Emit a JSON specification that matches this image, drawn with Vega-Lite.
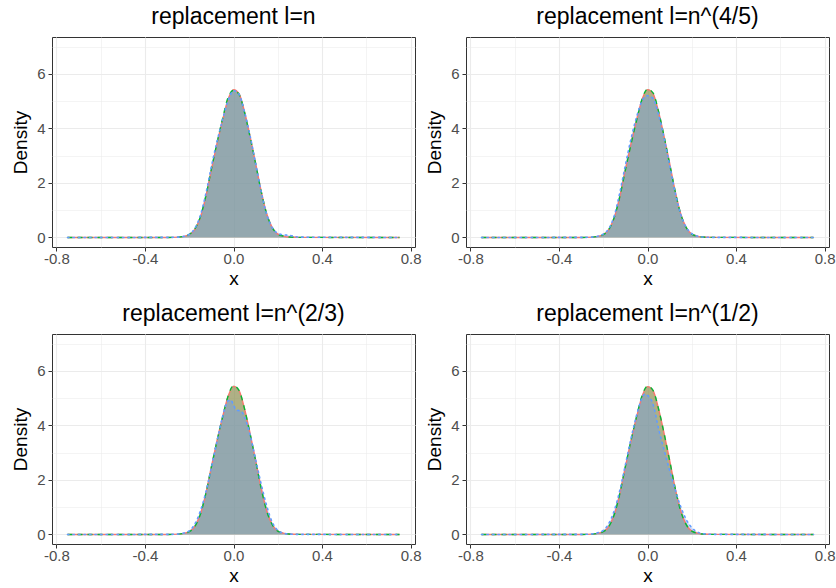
{
"$schema": "https://vega.github.io/schema/vega-lite/v6.json",
"padding": {"left": 11, "top": 5, "right": 0, "bottom": 0},
"background": "white",
"data": {"values": [
{"p":1,"s":"A","x":-0.75,"y":0},{"p":1,"s":"A","x":-0.3,"y":0.001},{"p":1,"s":"A","x":-0.25,"y":0.011},{"p":1,"s":"A","x":-0.225,"y":0.04},{"p":1,"s":"A","x":-0.2,"y":0.1},{"p":1,"s":"A","x":-0.175,"y":0.29},{"p":1,"s":"A","x":-0.15,"y":0.73},{"p":1,"s":"A","x":-0.125,"y":1.5},{"p":1,"s":"A","x":-0.1,"y":2.48},{"p":1,"s":"A","x":-0.075,"y":3.42},{"p":1,"s":"A","x":-0.05,"y":4.28},{"p":1,"s":"A","x":-0.025,"y":5.05},{"p":1,"s":"A","x":0,"y":5.42},{"p":1,"s":"A","x":0.025,"y":5.27},{"p":1,"s":"A","x":0.05,"y":4.6},{"p":1,"s":"A","x":0.075,"y":3.7},{"p":1,"s":"A","x":0.1,"y":2.72},{"p":1,"s":"A","x":0.125,"y":1.7},{"p":1,"s":"A","x":0.15,"y":0.87},{"p":1,"s":"A","x":0.175,"y":0.36},{"p":1,"s":"A","x":0.2,"y":0.12},{"p":1,"s":"A","x":0.225,"y":0.05},{"p":1,"s":"A","x":0.25,"y":0.014},{"p":1,"s":"A","x":0.3,"y":0.002},{"p":1,"s":"A","x":0.75,"y":0},
{"p":1,"s":"B","x":-0.75,"y":0},{"p":1,"s":"B","x":-0.3,"y":0.001},{"p":1,"s":"B","x":-0.25,"y":0.012},{"p":1,"s":"B","x":-0.225,"y":0.042},{"p":1,"s":"B","x":-0.2,"y":0.11},{"p":1,"s":"B","x":-0.175,"y":0.31},{"p":1,"s":"B","x":-0.15,"y":0.75},{"p":1,"s":"B","x":-0.125,"y":1.52},{"p":1,"s":"B","x":-0.1,"y":2.5},{"p":1,"s":"B","x":-0.075,"y":3.45},{"p":1,"s":"B","x":-0.05,"y":4.33},{"p":1,"s":"B","x":-0.025,"y":5.12},{"p":1,"s":"B","x":0,"y":5.4},{"p":1,"s":"B","x":0.025,"y":5.25},{"p":1,"s":"B","x":0.05,"y":4.58},{"p":1,"s":"B","x":0.075,"y":3.68},{"p":1,"s":"B","x":0.1,"y":2.7},{"p":1,"s":"B","x":0.125,"y":1.69},{"p":1,"s":"B","x":0.15,"y":0.86},{"p":1,"s":"B","x":0.175,"y":0.36},{"p":1,"s":"B","x":0.2,"y":0.12},{"p":1,"s":"B","x":0.225,"y":0.05},{"p":1,"s":"B","x":0.25,"y":0.014},{"p":1,"s":"B","x":0.3,"y":0.002},{"p":1,"s":"B","x":0.75,"y":0},
{"p":1,"s":"C","x":-0.75,"y":0},{"p":1,"s":"C","x":-0.3,"y":0.002},{"p":1,"s":"C","x":-0.25,"y":0.012},{"p":1,"s":"C","x":-0.225,"y":0.04},{"p":1,"s":"C","x":-0.2,"y":0.11},{"p":1,"s":"C","x":-0.175,"y":0.33},{"p":1,"s":"C","x":-0.15,"y":0.8},{"p":1,"s":"C","x":-0.125,"y":1.6},{"p":1,"s":"C","x":-0.1,"y":2.6},{"p":1,"s":"C","x":-0.075,"y":3.5},{"p":1,"s":"C","x":-0.05,"y":4.3},{"p":1,"s":"C","x":-0.025,"y":5.0},{"p":1,"s":"C","x":0,"y":5.38},{"p":1,"s":"C","x":0.025,"y":5.25},{"p":1,"s":"C","x":0.05,"y":4.6},{"p":1,"s":"C","x":0.075,"y":3.72},{"p":1,"s":"C","x":0.1,"y":2.72},{"p":1,"s":"C","x":0.125,"y":1.68},{"p":1,"s":"C","x":0.15,"y":0.85},{"p":1,"s":"C","x":0.175,"y":0.36},{"p":1,"s":"C","x":0.2,"y":0.15},{"p":1,"s":"C","x":0.225,"y":0.1},{"p":1,"s":"C","x":0.25,"y":0.08},{"p":1,"s":"C","x":0.3,"y":0.012},{"p":1,"s":"C","x":0.75,"y":0},
{"p":2,"s":"A","x":-0.75,"y":0},{"p":2,"s":"A","x":-0.3,"y":0.001},{"p":2,"s":"A","x":-0.25,"y":0.011},{"p":2,"s":"A","x":-0.225,"y":0.04},{"p":2,"s":"A","x":-0.2,"y":0.1},{"p":2,"s":"A","x":-0.175,"y":0.29},{"p":2,"s":"A","x":-0.15,"y":0.73},{"p":2,"s":"A","x":-0.125,"y":1.5},{"p":2,"s":"A","x":-0.1,"y":2.48},{"p":2,"s":"A","x":-0.075,"y":3.42},{"p":2,"s":"A","x":-0.05,"y":4.28},{"p":2,"s":"A","x":-0.025,"y":5.05},{"p":2,"s":"A","x":0,"y":5.42},{"p":2,"s":"A","x":0.025,"y":5.27},{"p":2,"s":"A","x":0.05,"y":4.6},{"p":2,"s":"A","x":0.075,"y":3.7},{"p":2,"s":"A","x":0.1,"y":2.72},{"p":2,"s":"A","x":0.125,"y":1.7},{"p":2,"s":"A","x":0.15,"y":0.87},{"p":2,"s":"A","x":0.175,"y":0.36},{"p":2,"s":"A","x":0.2,"y":0.12},{"p":2,"s":"A","x":0.225,"y":0.05},{"p":2,"s":"A","x":0.25,"y":0.014},{"p":2,"s":"A","x":0.3,"y":0.002},{"p":2,"s":"A","x":0.75,"y":0},
{"p":2,"s":"B","x":-0.75,"y":0},{"p":2,"s":"B","x":-0.3,"y":0.001},{"p":2,"s":"B","x":-0.25,"y":0.011},{"p":2,"s":"B","x":-0.225,"y":0.04},{"p":2,"s":"B","x":-0.2,"y":0.1},{"p":2,"s":"B","x":-0.175,"y":0.29},{"p":2,"s":"B","x":-0.15,"y":0.74},{"p":2,"s":"B","x":-0.125,"y":1.5},{"p":2,"s":"B","x":-0.1,"y":2.47},{"p":2,"s":"B","x":-0.075,"y":3.4},{"p":2,"s":"B","x":-0.05,"y":4.27},{"p":2,"s":"B","x":-0.025,"y":5.06},{"p":2,"s":"B","x":0,"y":5.44},{"p":2,"s":"B","x":0.025,"y":5.3},{"p":2,"s":"B","x":0.05,"y":4.62},{"p":2,"s":"B","x":0.075,"y":3.7},{"p":2,"s":"B","x":0.1,"y":2.7},{"p":2,"s":"B","x":0.125,"y":1.69},{"p":2,"s":"B","x":0.15,"y":0.86},{"p":2,"s":"B","x":0.175,"y":0.36},{"p":2,"s":"B","x":0.2,"y":0.12},{"p":2,"s":"B","x":0.225,"y":0.05},{"p":2,"s":"B","x":0.25,"y":0.014},{"p":2,"s":"B","x":0.3,"y":0.002},{"p":2,"s":"B","x":0.75,"y":0},
{"p":2,"s":"C","x":-0.75,"y":0},{"p":2,"s":"C","x":-0.3,"y":0.002},{"p":2,"s":"C","x":-0.25,"y":0.013},{"p":2,"s":"C","x":-0.225,"y":0.045},{"p":2,"s":"C","x":-0.2,"y":0.12},{"p":2,"s":"C","x":-0.175,"y":0.32},{"p":2,"s":"C","x":-0.15,"y":0.8},{"p":2,"s":"C","x":-0.125,"y":1.65},{"p":2,"s":"C","x":-0.1,"y":2.65},{"p":2,"s":"C","x":-0.075,"y":3.6},{"p":2,"s":"C","x":-0.05,"y":4.4},{"p":2,"s":"C","x":-0.025,"y":5.0},{"p":2,"s":"C","x":0,"y":5.2},{"p":2,"s":"C","x":0.025,"y":5.1},{"p":2,"s":"C","x":0.05,"y":4.5},{"p":2,"s":"C","x":0.075,"y":3.65},{"p":2,"s":"C","x":0.1,"y":2.65},{"p":2,"s":"C","x":0.125,"y":1.65},{"p":2,"s":"C","x":0.15,"y":0.85},{"p":2,"s":"C","x":0.175,"y":0.37},{"p":2,"s":"C","x":0.2,"y":0.14},{"p":2,"s":"C","x":0.225,"y":0.05},{"p":2,"s":"C","x":0.25,"y":0.015},{"p":2,"s":"C","x":0.3,"y":0.002},{"p":2,"s":"C","x":0.75,"y":0},
{"p":3,"s":"A","x":-0.75,"y":0},{"p":3,"s":"A","x":-0.3,"y":0.001},{"p":3,"s":"A","x":-0.25,"y":0.011},{"p":3,"s":"A","x":-0.225,"y":0.04},{"p":3,"s":"A","x":-0.2,"y":0.1},{"p":3,"s":"A","x":-0.175,"y":0.29},{"p":3,"s":"A","x":-0.15,"y":0.73},{"p":3,"s":"A","x":-0.125,"y":1.5},{"p":3,"s":"A","x":-0.1,"y":2.48},{"p":3,"s":"A","x":-0.075,"y":3.42},{"p":3,"s":"A","x":-0.05,"y":4.28},{"p":3,"s":"A","x":-0.025,"y":5.05},{"p":3,"s":"A","x":0,"y":5.43},{"p":3,"s":"A","x":0.025,"y":5.27},{"p":3,"s":"A","x":0.05,"y":4.6},{"p":3,"s":"A","x":0.075,"y":3.7},{"p":3,"s":"A","x":0.1,"y":2.72},{"p":3,"s":"A","x":0.125,"y":1.7},{"p":3,"s":"A","x":0.15,"y":0.87},{"p":3,"s":"A","x":0.175,"y":0.36},{"p":3,"s":"A","x":0.2,"y":0.12},{"p":3,"s":"A","x":0.225,"y":0.05},{"p":3,"s":"A","x":0.25,"y":0.014},{"p":3,"s":"A","x":0.3,"y":0.002},{"p":3,"s":"A","x":0.75,"y":0},
{"p":3,"s":"B","x":-0.75,"y":0},{"p":3,"s":"B","x":-0.3,"y":0.001},{"p":3,"s":"B","x":-0.25,"y":0.011},{"p":3,"s":"B","x":-0.225,"y":0.04},{"p":3,"s":"B","x":-0.2,"y":0.1},{"p":3,"s":"B","x":-0.175,"y":0.29},{"p":3,"s":"B","x":-0.15,"y":0.73},{"p":3,"s":"B","x":-0.125,"y":1.5},{"p":3,"s":"B","x":-0.1,"y":2.47},{"p":3,"s":"B","x":-0.075,"y":3.41},{"p":3,"s":"B","x":-0.05,"y":4.28},{"p":3,"s":"B","x":-0.025,"y":5.06},{"p":3,"s":"B","x":0,"y":5.46},{"p":3,"s":"B","x":0.025,"y":5.28},{"p":3,"s":"B","x":0.05,"y":4.6},{"p":3,"s":"B","x":0.075,"y":3.69},{"p":3,"s":"B","x":0.1,"y":2.7},{"p":3,"s":"B","x":0.125,"y":1.69},{"p":3,"s":"B","x":0.15,"y":0.86},{"p":3,"s":"B","x":0.175,"y":0.36},{"p":3,"s":"B","x":0.2,"y":0.12},{"p":3,"s":"B","x":0.225,"y":0.05},{"p":3,"s":"B","x":0.25,"y":0.014},{"p":3,"s":"B","x":0.3,"y":0.002},{"p":3,"s":"B","x":0.75,"y":0},
{"p":3,"s":"C","x":-0.75,"y":0},{"p":3,"s":"C","x":-0.3,"y":0.002},{"p":3,"s":"C","x":-0.25,"y":0.015},{"p":3,"s":"C","x":-0.225,"y":0.05},{"p":3,"s":"C","x":-0.2,"y":0.13},{"p":3,"s":"C","x":-0.175,"y":0.38},{"p":3,"s":"C","x":-0.15,"y":0.85},{"p":3,"s":"C","x":-0.125,"y":1.55},{"p":3,"s":"C","x":-0.1,"y":2.45},{"p":3,"s":"C","x":-0.075,"y":3.4},{"p":3,"s":"C","x":-0.05,"y":4.3},{"p":3,"s":"C","x":-0.025,"y":4.9},{"p":3,"s":"C","x":-0.0125,"y":4.93},{"p":3,"s":"C","x":0,"y":4.75},{"p":3,"s":"C","x":0.0125,"y":4.56},{"p":3,"s":"C","x":0.025,"y":4.54},{"p":3,"s":"C","x":0.0375,"y":4.5},{"p":3,"s":"C","x":0.05,"y":4.3},{"p":3,"s":"C","x":0.075,"y":3.65},{"p":3,"s":"C","x":0.1,"y":2.75},{"p":3,"s":"C","x":0.125,"y":1.85},{"p":3,"s":"C","x":0.15,"y":1.05},{"p":3,"s":"C","x":0.175,"y":0.45},{"p":3,"s":"C","x":0.2,"y":0.15},{"p":3,"s":"C","x":0.225,"y":0.05},{"p":3,"s":"C","x":0.25,"y":0.015},{"p":3,"s":"C","x":0.3,"y":0.002},{"p":3,"s":"C","x":0.75,"y":0},
{"p":4,"s":"A","x":-0.75,"y":0},{"p":4,"s":"A","x":-0.3,"y":0.001},{"p":4,"s":"A","x":-0.25,"y":0.011},{"p":4,"s":"A","x":-0.225,"y":0.04},{"p":4,"s":"A","x":-0.2,"y":0.1},{"p":4,"s":"A","x":-0.175,"y":0.29},{"p":4,"s":"A","x":-0.15,"y":0.73},{"p":4,"s":"A","x":-0.125,"y":1.5},{"p":4,"s":"A","x":-0.1,"y":2.48},{"p":4,"s":"A","x":-0.075,"y":3.42},{"p":4,"s":"A","x":-0.05,"y":4.28},{"p":4,"s":"A","x":-0.025,"y":5.05},{"p":4,"s":"A","x":0,"y":5.42},{"p":4,"s":"A","x":0.025,"y":5.27},{"p":4,"s":"A","x":0.05,"y":4.6},{"p":4,"s":"A","x":0.075,"y":3.7},{"p":4,"s":"A","x":0.1,"y":2.72},{"p":4,"s":"A","x":0.125,"y":1.7},{"p":4,"s":"A","x":0.15,"y":0.87},{"p":4,"s":"A","x":0.175,"y":0.36},{"p":4,"s":"A","x":0.2,"y":0.12},{"p":4,"s":"A","x":0.225,"y":0.05},{"p":4,"s":"A","x":0.25,"y":0.014},{"p":4,"s":"A","x":0.3,"y":0.002},{"p":4,"s":"A","x":0.75,"y":0},
{"p":4,"s":"B","x":-0.75,"y":0},{"p":4,"s":"B","x":-0.3,"y":0.001},{"p":4,"s":"B","x":-0.25,"y":0.011},{"p":4,"s":"B","x":-0.225,"y":0.04},{"p":4,"s":"B","x":-0.2,"y":0.1},{"p":4,"s":"B","x":-0.175,"y":0.29},{"p":4,"s":"B","x":-0.15,"y":0.73},{"p":4,"s":"B","x":-0.125,"y":1.5},{"p":4,"s":"B","x":-0.1,"y":2.49},{"p":4,"s":"B","x":-0.075,"y":3.43},{"p":4,"s":"B","x":-0.05,"y":4.3},{"p":4,"s":"B","x":-0.025,"y":5.08},{"p":4,"s":"B","x":0,"y":5.44},{"p":4,"s":"B","x":0.025,"y":5.28},{"p":4,"s":"B","x":0.05,"y":4.6},{"p":4,"s":"B","x":0.075,"y":3.7},{"p":4,"s":"B","x":0.1,"y":2.71},{"p":4,"s":"B","x":0.125,"y":1.7},{"p":4,"s":"B","x":0.15,"y":0.86},{"p":4,"s":"B","x":0.175,"y":0.36},{"p":4,"s":"B","x":0.2,"y":0.12},{"p":4,"s":"B","x":0.225,"y":0.05},{"p":4,"s":"B","x":0.25,"y":0.014},{"p":4,"s":"B","x":0.3,"y":0.002},{"p":4,"s":"B","x":0.75,"y":0},
{"p":4,"s":"C","x":-0.75,"y":0},{"p":4,"s":"C","x":-0.3,"y":0.003},{"p":4,"s":"C","x":-0.25,"y":0.02},{"p":4,"s":"C","x":-0.225,"y":0.06},{"p":4,"s":"C","x":-0.2,"y":0.15},{"p":4,"s":"C","x":-0.175,"y":0.4},{"p":4,"s":"C","x":-0.15,"y":0.88},{"p":4,"s":"C","x":-0.125,"y":1.62},{"p":4,"s":"C","x":-0.1,"y":2.55},{"p":4,"s":"C","x":-0.075,"y":3.5},{"p":4,"s":"C","x":-0.05,"y":4.35},{"p":4,"s":"C","x":-0.025,"y":5.0},{"p":4,"s":"C","x":-0.0125,"y":5.15},{"p":4,"s":"C","x":0,"y":5.1},{"p":4,"s":"C","x":0.025,"y":4.78},{"p":4,"s":"C","x":0.05,"y":3.88},{"p":4,"s":"C","x":0.075,"y":3.1},{"p":4,"s":"C","x":0.1,"y":2.35},{"p":4,"s":"C","x":0.125,"y":1.65},{"p":4,"s":"C","x":0.15,"y":1.02},{"p":4,"s":"C","x":0.175,"y":0.55},{"p":4,"s":"C","x":0.2,"y":0.25},{"p":4,"s":"C","x":0.225,"y":0.09},{"p":4,"s":"C","x":0.25,"y":0.03},{"p":4,"s":"C","x":0.3,"y":0.004},{"p":4,"s":"C","x":0.75,"y":0}
]},
"columns": 2,
"spacing": {"row": 13, "column": 3},
"concat": [
{"title":"replacement l=n","width":363,"height":210,
 "transform":[{"filter":"datum.p==1"}],
 "encoding":{
  "x":{"field":"x","type":"quantitative","scale":{"domain":[-0.82,0.82],"nice":false,"zero":false},"axis":{"title":"x","values":[-0.8,-0.6,-0.4,-0.2,0,0.2,0.4,0.6,0.8],"labelExpr":"abs(datum.value*2.5-round(datum.value*2.5))<0.01 ? (datum.value<-0.001?'-':'')+format(abs(datum.value),'.1f') : ''","tickOpacity":{"condition":{"test":"abs(datum.value*2.5-round(datum.value*2.5))<0.01","value":1},"value":0},"gridWidth":{"condition":{"test":"abs(datum.value*2.5-round(datum.value*2.5))<0.01","value":1.1},"value":0.55}}},
  "y":{"field":"y","type":"quantitative","scale":{"domain":[-0.35,7.35],"nice":false,"zero":false},"axis":{"title":"Density","values":[0,1,2,3,4,5,6,7],"labelExpr":"datum.value%2==0 ? ''+datum.value : ''","tickOpacity":{"condition":{"test":"datum.value%2==0","value":1},"value":0},"gridWidth":{"condition":{"test":"datum.value%2==0","value":1.1},"value":0.55}}},
  "color":{"field":"s","type":"nominal","scale":{"domain":["A","B","C"],"range":["#F8766D","#00BA38","#619CFF"]},"legend":null}
 },
 "layer":[
  {"transform":[{"filter":"datum.s=='A'"}],"mark":{"type":"area","interpolate":"monotone","fillOpacity":0.6},"encoding":{"y2":{"datum":0}}},
  {"transform":[{"filter":"datum.s=='B'"}],"mark":{"type":"area","interpolate":"monotone","fillOpacity":0.3},"encoding":{"y2":{"datum":0}}},
  {"transform":[{"filter":"datum.s=='C'"}],"mark":{"type":"area","interpolate":"monotone","fillOpacity":0.35},"encoding":{"y2":{"datum":0}}},
  {"transform":[{"filter":"datum.s=='A'"}],"mark":{"type":"line","interpolate":"monotone","strokeWidth":1.4},"encoding":{}},
  {"transform":[{"filter":"datum.s=='B'"}],"mark":{"type":"line","interpolate":"monotone","strokeWidth":1.4,"strokeDash":[5,5]},"encoding":{}},
  {"transform":[{"filter":"datum.s=='C'"}],"mark":{"type":"line","interpolate":"monotone","strokeWidth":1.6,"strokeDash":[1.5,4],"strokeCap":"round"},"encoding":{}}
 ]},
{"title":"replacement l=n^(4/5)","width":363,"height":210,
 "transform":[{"filter":"datum.p==2"}],
 "encoding":{
  "x":{"field":"x","type":"quantitative","scale":{"domain":[-0.82,0.82],"nice":false,"zero":false},"axis":{"title":"x","values":[-0.8,-0.6,-0.4,-0.2,0,0.2,0.4,0.6,0.8],"labelExpr":"abs(datum.value*2.5-round(datum.value*2.5))<0.01 ? (datum.value<-0.001?'-':'')+format(abs(datum.value),'.1f') : ''","tickOpacity":{"condition":{"test":"abs(datum.value*2.5-round(datum.value*2.5))<0.01","value":1},"value":0},"gridWidth":{"condition":{"test":"abs(datum.value*2.5-round(datum.value*2.5))<0.01","value":1.1},"value":0.55}}},
  "y":{"field":"y","type":"quantitative","scale":{"domain":[-0.35,7.35],"nice":false,"zero":false},"axis":{"title":"Density","values":[0,1,2,3,4,5,6,7],"labelExpr":"datum.value%2==0 ? ''+datum.value : ''","tickOpacity":{"condition":{"test":"datum.value%2==0","value":1},"value":0},"gridWidth":{"condition":{"test":"datum.value%2==0","value":1.1},"value":0.55}}},
  "color":{"field":"s","type":"nominal","scale":{"domain":["A","B","C"],"range":["#F8766D","#00BA38","#619CFF"]},"legend":null}
 },
 "layer":[
  {"transform":[{"filter":"datum.s=='A'"}],"mark":{"type":"area","interpolate":"monotone","fillOpacity":0.6},"encoding":{"y2":{"datum":0}}},
  {"transform":[{"filter":"datum.s=='B'"}],"mark":{"type":"area","interpolate":"monotone","fillOpacity":0.3},"encoding":{"y2":{"datum":0}}},
  {"transform":[{"filter":"datum.s=='C'"}],"mark":{"type":"area","interpolate":"monotone","fillOpacity":0.35},"encoding":{"y2":{"datum":0}}},
  {"transform":[{"filter":"datum.s=='A'"}],"mark":{"type":"line","interpolate":"monotone","strokeWidth":1.4},"encoding":{}},
  {"transform":[{"filter":"datum.s=='B'"}],"mark":{"type":"line","interpolate":"monotone","strokeWidth":1.4,"strokeDash":[5,5]},"encoding":{}},
  {"transform":[{"filter":"datum.s=='C'"}],"mark":{"type":"line","interpolate":"monotone","strokeWidth":1.6,"strokeDash":[1.5,4],"strokeCap":"round"},"encoding":{}}
 ]},
{"title":"replacement l=n^(2/3)","width":363,"height":210,
 "transform":[{"filter":"datum.p==3"}],
 "encoding":{
  "x":{"field":"x","type":"quantitative","scale":{"domain":[-0.82,0.82],"nice":false,"zero":false},"axis":{"title":"x","values":[-0.8,-0.6,-0.4,-0.2,0,0.2,0.4,0.6,0.8],"labelExpr":"abs(datum.value*2.5-round(datum.value*2.5))<0.01 ? (datum.value<-0.001?'-':'')+format(abs(datum.value),'.1f') : ''","tickOpacity":{"condition":{"test":"abs(datum.value*2.5-round(datum.value*2.5))<0.01","value":1},"value":0},"gridWidth":{"condition":{"test":"abs(datum.value*2.5-round(datum.value*2.5))<0.01","value":1.1},"value":0.55}}},
  "y":{"field":"y","type":"quantitative","scale":{"domain":[-0.35,7.35],"nice":false,"zero":false},"axis":{"title":"Density","values":[0,1,2,3,4,5,6,7],"labelExpr":"datum.value%2==0 ? ''+datum.value : ''","tickOpacity":{"condition":{"test":"datum.value%2==0","value":1},"value":0},"gridWidth":{"condition":{"test":"datum.value%2==0","value":1.1},"value":0.55}}},
  "color":{"field":"s","type":"nominal","scale":{"domain":["A","B","C"],"range":["#F8766D","#00BA38","#619CFF"]},"legend":null}
 },
 "layer":[
  {"transform":[{"filter":"datum.s=='A'"}],"mark":{"type":"area","interpolate":"monotone","fillOpacity":0.6},"encoding":{"y2":{"datum":0}}},
  {"transform":[{"filter":"datum.s=='B'"}],"mark":{"type":"area","interpolate":"monotone","fillOpacity":0.3},"encoding":{"y2":{"datum":0}}},
  {"transform":[{"filter":"datum.s=='C'"}],"mark":{"type":"area","interpolate":"monotone","fillOpacity":0.35},"encoding":{"y2":{"datum":0}}},
  {"transform":[{"filter":"datum.s=='A'"}],"mark":{"type":"line","interpolate":"monotone","strokeWidth":1.4},"encoding":{}},
  {"transform":[{"filter":"datum.s=='B'"}],"mark":{"type":"line","interpolate":"monotone","strokeWidth":1.4,"strokeDash":[5,5]},"encoding":{}},
  {"transform":[{"filter":"datum.s=='C'"}],"mark":{"type":"line","interpolate":"monotone","strokeWidth":1.6,"strokeDash":[1.5,4],"strokeCap":"round"},"encoding":{}}
 ]},
{"title":"replacement l=n^(1/2)","width":363,"height":210,
 "transform":[{"filter":"datum.p==4"}],
 "encoding":{
  "x":{"field":"x","type":"quantitative","scale":{"domain":[-0.82,0.82],"nice":false,"zero":false},"axis":{"title":"x","values":[-0.8,-0.6,-0.4,-0.2,0,0.2,0.4,0.6,0.8],"labelExpr":"abs(datum.value*2.5-round(datum.value*2.5))<0.01 ? (datum.value<-0.001?'-':'')+format(abs(datum.value),'.1f') : ''","tickOpacity":{"condition":{"test":"abs(datum.value*2.5-round(datum.value*2.5))<0.01","value":1},"value":0},"gridWidth":{"condition":{"test":"abs(datum.value*2.5-round(datum.value*2.5))<0.01","value":1.1},"value":0.55}}},
  "y":{"field":"y","type":"quantitative","scale":{"domain":[-0.35,7.35],"nice":false,"zero":false},"axis":{"title":"Density","values":[0,1,2,3,4,5,6,7],"labelExpr":"datum.value%2==0 ? ''+datum.value : ''","tickOpacity":{"condition":{"test":"datum.value%2==0","value":1},"value":0},"gridWidth":{"condition":{"test":"datum.value%2==0","value":1.1},"value":0.55}}},
  "color":{"field":"s","type":"nominal","scale":{"domain":["A","B","C"],"range":["#F8766D","#00BA38","#619CFF"]},"legend":null}
 },
 "layer":[
  {"transform":[{"filter":"datum.s=='A'"}],"mark":{"type":"area","interpolate":"monotone","fillOpacity":0.6},"encoding":{"y2":{"datum":0}}},
  {"transform":[{"filter":"datum.s=='B'"}],"mark":{"type":"area","interpolate":"monotone","fillOpacity":0.3},"encoding":{"y2":{"datum":0}}},
  {"transform":[{"filter":"datum.s=='C'"}],"mark":{"type":"area","interpolate":"monotone","fillOpacity":0.35},"encoding":{"y2":{"datum":0}}},
  {"transform":[{"filter":"datum.s=='A'"}],"mark":{"type":"line","interpolate":"monotone","strokeWidth":1.4},"encoding":{}},
  {"transform":[{"filter":"datum.s=='B'"}],"mark":{"type":"line","interpolate":"monotone","strokeWidth":1.4,"strokeDash":[5,5]},"encoding":{}},
  {"transform":[{"filter":"datum.s=='C'"}],"mark":{"type":"line","interpolate":"monotone","strokeWidth":1.6,"strokeDash":[1.5,4],"strokeCap":"round"},"encoding":{}}
 ]}
],
"config": {
 "font": "Liberation Sans",
 "view": {"stroke": "#333333", "strokeWidth": 1},
 "title": {"fontSize": 23, "fontWeight": "normal", "color": "#000000", "offset": 8, "font": "Liberation Sans"},
 "axis": {"labelFont": "Liberation Sans", "titleFont": "Liberation Sans", "labelFontSize": 15, "labelColor": "#4D4D4D", "titleFontSize": 19, "titleFontWeight": "normal", "titleColor": "#000000", "tickColor": "#333333", "tickSize": 4, "domain": false, "gridColor": "#EBEBEB", "labelOverlap": false, "labelFlush": false},
 "axisX": {"titlePadding": 3, "labelPadding": 0},
 "axisY": {"titlePadding": 6, "labelPadding": 3}
}
}
